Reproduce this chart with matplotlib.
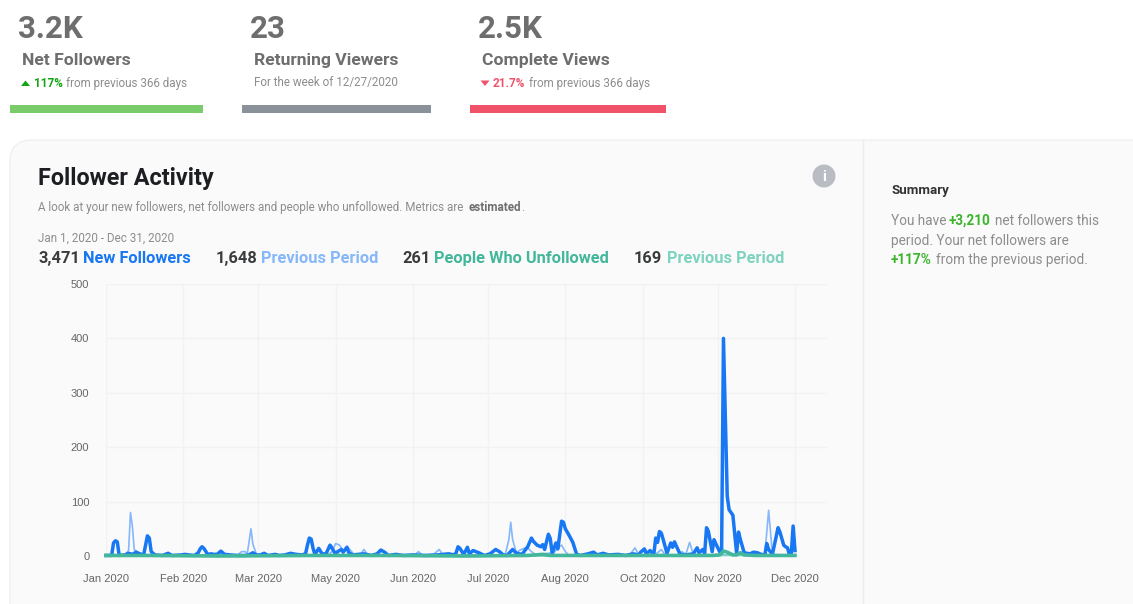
import matplotlib
matplotlib.use("Agg")
import matplotlib.pyplot as plt
from matplotlib.patches import FancyBboxPatch, Rectangle, Circle, Polygon

plt.rcParams['font.family'] = ['Roboto', 'DejaVu Sans']

# values, as (day of period, count) vertices
new_days = [0, 3, 4, 5, 6, 7, 10, 12, 14, 16, 18, 20, 21, 22, 23, 24, 26, 30, 33, 35, 40, 42, 44, 47, 49, 50, 51, 52, 54,
            56, 57, 59, 61, 63, 66, 70, 74, 76, 78, 80, 82, 84, 86, 90, 92, 95, 98, 101, 104, 106, 107, 108, 109, 110, 111,
            113, 115, 117, 119, 120, 122, 123, 125, 126, 128, 129, 131, 134, 137, 141, 144, 146, 148, 150, 154, 158,
            163, 170, 176, 182, 185, 186, 187, 188, 190, 192, 193, 195, 198, 201, 204, 207, 209, 211, 213, 216, 218,
            221, 224, 226, 227, 229, 231, 232, 233, 235, 236, 237, 239, 240, 242, 243, 244, 246, 248, 250, 252, 256,
            259, 261, 264, 267, 272, 276, 280, 283, 284, 286, 287, 289, 291, 292, 293, 294, 295, 296, 298, 300, 301,
            302, 303, 305, 308, 312, 314, 315, 317, 318, 319, 320, 322, 323, 324, 326, 327, 328, 330, 331, 333, 335,
            336, 337, 339, 342, 344, 346, 348, 350, 351, 352, 354, 357, 358, 360, 361, 362, 363, 364, 365, 366]
new_vals = [1, 1, 24, 28, 26, 1, 2, 5, 3, 7, 4, 2, 20, 37, 33, 8, 2, 1, 5, 1, 2, 3, 2, 1, 6, 13, 17, 14, 3,
            4, 3, 3, 9, 3, 2, 1, 1, 2, 6, 2, 2, 5, 1, 3, 1, 2, 5, 3, 2, 4, 20, 33, 31, 14, 3,
            14, 3, 5, 20, 15, 3, 8, 12, 7, 16, 6, 2, 3, 4, 1, 4, 11, 7, 1, 3, 1,
            2, 1, 2, 4, 2, 6, 17, 14, 3, 16, 4, 10, 6, 1, 4, 12, 8, 2, 1, 12, 5,
            3, 17, 33, 27, 20, 17, 21, 12, 40, 32, 5, 24, 13, 64, 62, 50, 38, 25, 3, 1, 4,
            7, 2, 5, 2, 3, 1, 4, 2, 7, 13, 4, 10, 3, 33, 25, 45, 42, 30, 5, 24, 16,
            26, 18, 3, 2, 4, 15, 6, 12, 4, 52, 45, 8, 30, 22, 8, 4, 400, 110, 85, 75, 5,
            44, 30, 6, 4, 7, 6, 3, 2, 23, 12, 3, 52, 44, 20, 17, 15, 3, 3, 55, 10]

prev_new_days = [0, 10, 12, 13, 14, 15, 18, 30, 60, 70, 72, 74, 75, 77, 78, 80, 100, 118, 120, 122, 124, 126, 128, 132,
                 135, 137, 139, 150, 164, 166, 168, 174, 177, 179, 190, 212, 214, 215, 216, 218, 220, 222, 224, 226, 228,
                 232, 238, 240, 242, 244, 246, 262, 264, 266, 278, 281, 283, 292, 295, 297, 304, 306, 308, 310, 312, 316,
                 340, 350, 352, 354, 358, 366]
prev_new_vals = [1, 2, 10, 80, 55, 12, 3, 1, 1, 2, 8, 8, 3, 50, 22, 2, 1, 2, 8, 23, 20, 10, 18, 2,
                 2, 12, 2, 1, 2, 8, 2, 3, 12, 2, 1, 2, 30, 62, 30, 6, 11, 14, 15, 8, 3,
                 4, 6, 15, 20, 8, 1, 1, 6, 1, 1, 15, 2, 3, 12, 2, 2, 8, 3, 25, 3, 2,
                 2, 3, 84, 3, 2, 2]

unfollow_days = [0, 20, 60, 110, 150, 190, 224, 232, 236, 280, 310, 322, 326, 328, 330, 333, 335, 337, 339, 345, 366]
unfollow_vals = [1, 1, 0, 1, 1, 0, 1, 3, 1, 1, 1, 1, 2, 9, 7, 2, 2, 6, 2, 1, 1]

prev_unfollow_days = [0, 60, 120, 200, 240, 300, 340, 366]
prev_unfollow_vals = [0, 1, 0, 1, 0, 1, 1, 0]

tick_days = [0, 41, 81, 122, 163, 203, 244, 285, 325, 366]
tick_labels = ['Jan 2020', 'Feb 2020', 'Mar 2020', 'May 2020', 'Jun 2020',
               'Jul 2020', 'Aug 2020', 'Oct 2020', 'Nov 2020', 'Dec 2020']
y_ticks = [0, 100, 200, 300, 400, 500]

BLUE = '#1877f2'
LIGHT_BLUE = '#86b7f8'
TEAL = '#42b79b'
LIGHT_TEAL = '#7dd3c0'
GREEN = '#14a514'
SUM_GREEN = '#3cb52d'
RED = '#f0526a'
DARK = '#3a3b3d'
GREY = '#6e6e6e'
SOFT = '#8d8d8d'

W, H = 1133, 604
fig = plt.figure(figsize=(W / 100, H / 100), dpi=100, facecolor='white')

# page layer in pixel coordinates
page = fig.add_axes([0, 0, 1, 1])
page.set_xlim(0, W)
page.set_ylim(H, 0)
page.axis('off')


def label(x, y, s, size, color, weight='normal', family=None, **kw):
    page.text(x, y, s, fontsize=size, color=color, fontweight=weight,
              family=family or ['Roboto', 'DejaVu Sans'], va='baseline', **kw)


# top cards
label(18, 38, '3.2K', 22.5, GREY, 'bold')
label(22, 65, 'Net Followers', 12.6, GREY, 'bold')
page.add_patch(Polygon([(21, 86), (30, 86), (25.5, 80.5)], color=GREEN, lw=0))
label(34, 87, '117%', 8.5, GREEN, 'bold')
label(66, 87, 'from previous 366 days', 8.4, SOFT)
page.add_patch(Rectangle((10, 104.5), 193, 8, color='#7acc6b', lw=0))

label(250, 38, '23', 22.5, GREY, 'bold')
label(254, 65, 'Returning Viewers', 12.6, GREY, 'bold')
label(254, 86, 'For the week of 12/27/2020', 8.4, SOFT)
page.add_patch(Rectangle((241.5, 104.5), 189.5, 8, color='#8a9199', lw=0))

label(478, 38, '2.5K', 22.5, GREY, 'bold')
label(482, 65, 'Complete Views', 12.6, GREY, 'bold')
page.add_patch(Polygon([(480.5, 80.5), (489.5, 80.5), (485, 86)], color=RED, lw=0))
label(493, 87, '21.7%', 8.5, RED, 'bold')
label(529, 87, 'from previous 366 days', 8.4, SOFT)
page.add_patch(Rectangle((470, 104.5), 196, 8, color=RED, lw=0))

# big panel
page.add_patch(FancyBboxPatch((10, 140), 1200, 600, boxstyle='round,pad=0,rounding_size=22',
                              fc='#fafafa', ec='#f0f0f0', lw=1))
page.plot([863, 863], [140, 604], color='#ececec', lw=1)

label(38.5, 185, 'Follower Activity', 16.8, '#1c1e21', 'bold')
label(38.5, 211, 'A look at your new followers, net followers and people who unfollowed. Metrics are', 8.35, SOFT)
label(468.5, 211, 'estimated', 8.35, GREY, 'bold')
label(521, 211, '.', 8.35, SOFT)
page.add_patch(Circle((824, 176), 11.5, color='#b9bdc3', lw=0))
label(824, 181, 'i', 11, 'white', 'bold', ha='center')

label(38.5, 242, 'Jan 1, 2020 - Dec 31, 2020', 8.4, SOFT)
legend_row = [(38.5, '3,471', DARK), (83, 'New Followers', BLUE),
              (216, '1,648', DARK), (261, 'Previous Period', LIGHT_BLUE),
              (402, '261', DARK), (434, 'People Who Unfollowed', TEAL),
              (634, '169', DARK), (667, 'Previous Period', LIGHT_TEAL)]
for x, s, c in legend_row:
    label(x, 263, s, 11.75, c, 'bold')

# summary column
label(891, 194, 'Summary', 9.6, '#333333', 'bold')
label(891, 225, 'You have', 9.8, SOFT)
label(949, 225, '+3,210', 9.8, SUM_GREEN, 'bold')
label(995, 225, 'net followers this', 9.8, SOFT)
label(891, 245, 'period. Your net followers are', 9.8, SOFT)
label(891, 264, '+117%', 9.8, SUM_GREEN, 'bold')
label(936, 264, 'from the previous period.', 9.8, SOFT)

# chart
px_per_day = (795 - 106) / 366
ax = fig.add_axes([106 / W, 1 - 556 / H, (827 - 106) / W, (556 - 284) / H])
ax.patch.set_alpha(0)
ax.set_xlim(0, (827 - 106) / px_per_day)
ax.set_ylim(0, 500)
for s in ax.spines.values():
    s.set_visible(False)
ax.grid(True, color='#f2f2f2', lw=1)
ax.set_axisbelow(True)
ax.set_xticks(tick_days)
ax.set_xticklabels(tick_labels)
ax.set_yticks(y_ticks)
ax.tick_params(length=0, labelsize=8, labelcolor='#666666')
ax.tick_params(axis='x', pad=13)
ax.tick_params(axis='y', pad=12)
for t in ax.get_xticklabels() + ax.get_yticklabels():
    t.set_family(['Liberation Sans', 'DejaVu Sans'])

ax.plot(prev_new_days, prev_new_vals, color=LIGHT_BLUE, lw=1.2, clip_on=False)
ax.plot(new_days, new_vals, color=BLUE, lw=2.5, clip_on=False)
ax.plot(prev_unfollow_days, prev_unfollow_vals, color=LIGHT_TEAL, lw=1.2, clip_on=False)
ax.plot(unfollow_days, unfollow_vals, color=TEAL, lw=2.6, clip_on=False)

fig.savefig('out.png', dpi=100)
